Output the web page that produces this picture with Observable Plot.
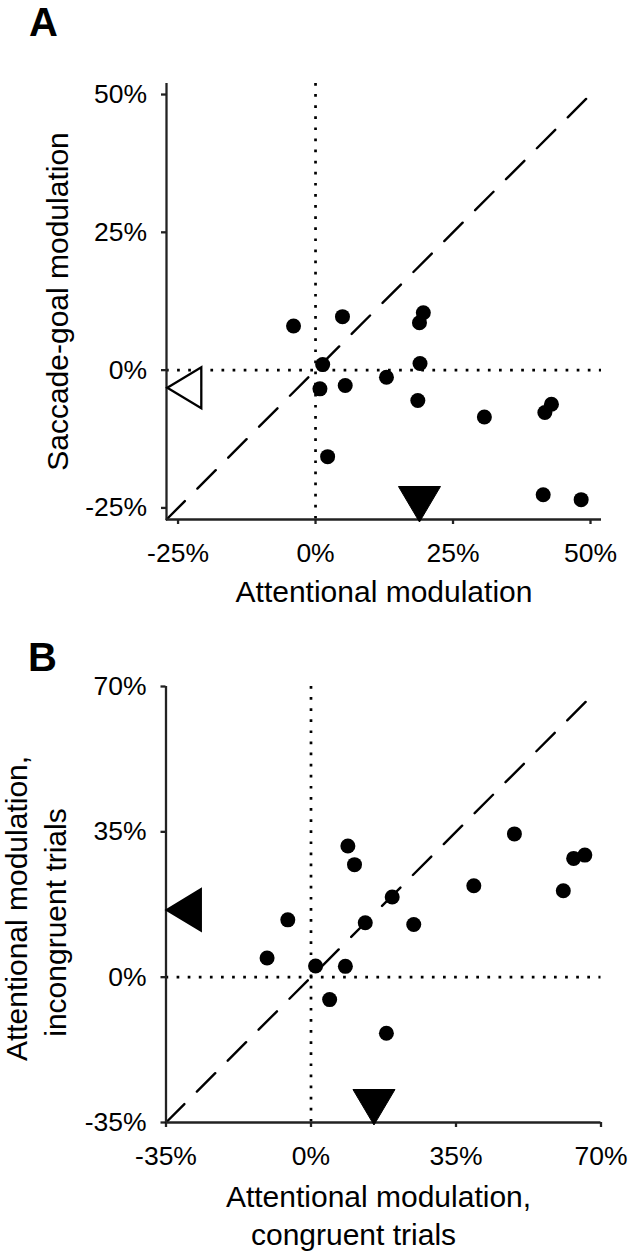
<!DOCTYPE html>
<html>
<head>
<meta charset="utf-8">
<script src="https://cdn.jsdelivr.net/npm/d3@7"></script>
<script src="https://cdn.jsdelivr.net/npm/@observablehq/plot@0.6"></script>
<style>
  body { margin: 0; background: #fff; }
  #fig { position: relative; width: 629px; height: 1254px; font-family: "Liberation Sans", Arial, sans-serif; }
  .panel { position: absolute; left: 0; }
  .letter { position: absolute; z-index: 2; font-size: 40px; font-weight: bold; line-height: 40px; }
  #fig g[aria-label^="x-axis"] line, #fig g[aria-label^="x-axis"] path,
  #fig g[aria-label^="y-axis"] line, #fig g[aria-label^="y-axis"] path { stroke-width: 2.3px; stroke: #222; }
</style>
</head>
<body>
<div id="fig">
  <div class="panel" id="panelA" style="top:0px"></div>
  <div class="panel" id="panelB" style="top:627px"></div>
  <div class="letter" style="left:29px;top:2px">A</div>
  <div class="letter" style="left:28px;top:637px">B</div>
</div>
<script>
// panel A: attentional vs saccade-goal modulation (%)
const attention = [-4.0, 4.9, 19.6, 18.9, 1.3, 19.0, 12.9, 0.8, 5.4, 18.6, 30.7, 41.7, 42.9, 2.2, 41.4, 48.3];
const saccade   = [8.0, 9.7, 10.4, 8.6, 1.0, 1.2, -1.3, -3.4, -2.8, -5.5, -8.5, -7.7, -6.2, -15.7, -22.6, -23.5];
const meanAttention = [18.9];
const meanSaccade = [-3.2];
const ticksA = [-25, 0, 25, 50];
const rangeA = [-27.1, 52];
const diagA = [-27.1, 50.5];

// panel B: congruent vs incongruent trials (%)
const congruent   = [8.9, 10.5, 49.1, 63.4, 66.1, 39.3, 60.9, 19.6, -5.6, 13.1, 24.8, -10.6, 1.1, 8.3, 4.5, 18.2];
const incongruent = [31.6, 27.1, 34.5, 28.6, 29.4, 22.0, 20.8, 19.3, 13.8, 13.1, 12.7, 4.6, 2.7, 2.6, -5.4, -13.5];
const meanCongruent = [15.2];
const meanIncongruent = [16.2];
const ticksB = [-35, 0, 35, 70];
const rangeB = [-35, 70];
const diagB = [-35, 68];

const font = '"Liberation Sans", Arial, Helvetica, sans-serif';
const pct = d => d + "%";

// triangles with the tip at the anchor point
const triLeft = (w, h) => ({draw(ctx) { ctx.moveTo(0, 0); ctx.lineTo(w, -h / 2); ctx.lineTo(w, h / 2); ctx.closePath(); }});
const triDown = (w, h) => ({draw(ctx) { ctx.moveTo(0, 0); ctx.lineTo(-w / 2, -h); ctx.lineTo(w / 2, -h); ctx.closePath(); }});

function panel({xs, ys, ticks, range, diag, meanX, meanY, leftFill, margins, xTitles, yTitles}) {
  const points = d3.zip(xs, ys);
  return Plot.plot({
    width: 629,
    height: 627,
    ...margins,
    style: {fontFamily: font, fontSize: "26.5px", color: "black", background: "white", overflow: "visible"},
    x: {domain: range, ticks, tickFormat: pct, tickSize: 5, tickPadding: 19, label: null},
    y: {domain: range, ticks, tickFormat: pct, tickSize: 5, tickPadding: 14.5, label: null},
    marks: [
      Plot.ruleX([0], {stroke: "black", strokeWidth: 2.7, strokeDasharray: "2.7,8.4"}),
      Plot.ruleY([0], {stroke: "black", strokeWidth: 2.7, strokeDasharray: "2.7,8.4"}),
      Plot.line(diag, {x: d => d, y: d => d, stroke: "black", strokeWidth: 2.4, strokeDasharray: "26,17.7"}),
      Plot.ruleX([range[0]], {stroke: "#222", strokeWidth: 2.3}),
      Plot.ruleY([range[0]], {stroke: "#222", strokeWidth: 2.3}),
      Plot.dot(points, {x: d => d[0], y: d => d[1], r: 7.5, fill: "black"}),
      Plot.dot(meanY, {y: d => d, frameAnchor: "left", dx: 0.8, symbol: triLeft(34, 41),
        fill: leftFill, stroke: "black", strokeWidth: 2.3}),
      Plot.dot(meanX, {x: d => d, frameAnchor: "bottom", dy: 2.5, symbol: triDown(42, 35.5),
        fill: "black", stroke: "black", strokeWidth: 1}),
      ...xTitles.map(t => Plot.text([t.text], {text: d => d, frameAnchor: "bottom", lineAnchor: "bottom",
        textAnchor: "middle", dx: t.dx, dy: t.dy, fontSize: 30, fontFamily: font})),
      ...yTitles.map(t => Plot.text([t.text], {text: d => d, frameAnchor: "left", lineAnchor: "bottom",
        textAnchor: "middle", rotate: -90, dx: t.dx, dy: t.dy, fontSize: 30, fontFamily: font}))
    ]
  });
}

const chartA = panel({
  xs: attention, ys: saccade, ticks: ticksA, range: rangeA, diag: diagA,
  meanX: meanAttention, meanY: meanSaccade, leftFill: "white",
  margins: {marginLeft: 166, marginRight: 28, marginTop: 83, marginBottom: 108},
  xTitles: [{text: "Attentional modulation", dx: 0, dy: 82.7}],
  yTitles: [{text: "Saccade-goal modulation", dx: -98.5, dy: 0}]
});

const chartB = panel({
  xs: congruent, ys: incongruent, ticks: ticksB, range: rangeB, diag: diagB,
  meanX: meanCongruent, meanY: meanIncongruent, leftFill: "black",
  margins: {marginLeft: 165.5, marginRight: 28.5, marginTop: 59, marginBottom: 132},
  xTitles: [
    {text: "Attentional modulation,", dx: -5, dy: 84.4},
    {text: "congruent trials", dx: -30, dy: 122.7}
  ],
  yTitles: [
    {text: "Attentional modulation,", dx: -139, dy: 4},
    {text: "incongruent trials", dx: -100.5, dy: 18}
  ]
});

d3.select("#panelA").append(() => chartA);
d3.select("#panelB").append(() => chartB);
</script>
</body>
</html>
